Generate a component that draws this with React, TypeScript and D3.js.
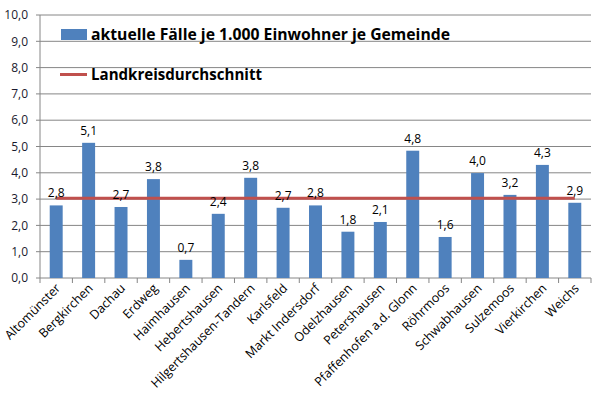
import * as d3 from 'd3'

// Gemeinden im Landkreis Dachau
const gemeinden = [
  'Altomünster', 'Bergkirchen', 'Dachau', 'Erdweg', 'Haimhausen', 'Hebertshausen',
  'Hilgertshausen-Tandern', 'Karlsfeld', 'Markt Indersdorf', 'Odelzhausen', 'Petershausen',
  'Pfaffenhofen a.d. Glonn', 'Röhrmoos', 'Schwabhausen', 'Sulzemoos', 'Vierkirchen', 'Weichs'
]
// aktuelle Fälle je 1.000 Einwohner
const faelle = [2.76, 5.14, 2.7, 3.76, 0.69, 2.44, 3.81, 2.67, 2.76, 1.76, 2.13, 4.84, 1.56, 3.99, 3.16, 4.3, 2.86]
const durchschnitt = 3.03
const yTicks = [0, 1, 2, 3, 4, 5, 6, 7, 8, 9, 10]

const seriesName = 'aktuelle Fälle je 1.000 Einwohner je Gemeinde'
const avgName = 'Landkreisdurchschnitt'

const W = 598
const H = 397
const margin = { top: 15, right: 7, bottom: 119, left: 40 }
const font = '"Open Sans", sans-serif'
const fmt = (v: number) => v.toFixed(1).replace('.', ',')

export default function App() {
  const x = d3.scaleBand<string>()
    .domain(gemeinden)
    .range([margin.left, W - margin.right])
    .paddingInner(0.6)
    .paddingOuter(0.3)
  const y = d3.scaleLinear()
    .domain([0, 10])
    .range([H - margin.bottom, margin.top])

  const step = x.step()
  const x0 = x.range()[0]
  const bottom = y(0)
  const center = (g: string) => (x(g) ?? 0) + x.bandwidth() / 2

  return (
    <svg width={W} height={H} style={{ position: 'absolute', left: 0, top: 0, background: '#fff' }}>
      {/* gridlines + y labels */}
      {yTicks.map(t => (
        <g key={t}>
          {t > 0 && (
            <line x1={margin.left} x2={W - margin.right} y1={y(t)} y2={y(t)} stroke="#868686" strokeWidth={1} />
          )}
          <line x1={margin.left - 4} x2={margin.left} y1={y(t)} y2={y(t)} stroke="#868686" />
          <text x={28} y={y(t)} dy="0.35em" textAnchor="end" fontFamily={font} fontSize={12} fill="#1a1a2e">
            {fmt(t)}
          </text>
        </g>
      ))}

      {/* axes */}
      <line x1={margin.left} x2={margin.left} y1={y(10)} y2={bottom} stroke="#868686" />
      <line x1={margin.left} x2={W - margin.right} y1={bottom} y2={bottom} stroke="#868686" />
      {d3.range(gemeinden.length + 1).map(i => (
        <line key={i} x1={x0 + i * step} x2={x0 + i * step} y1={bottom} y2={bottom + 5} stroke="#868686" />
      ))}

      {/* bars */}
      {gemeinden.map((g, i) => (
        <rect key={g} x={x(g)} y={y(faelle[i])} width={x.bandwidth()} height={bottom - y(faelle[i])} fill="#4F81BD" />
      ))}

      {/* Landkreisdurchschnitt */}
      <line
        x1={center(gemeinden[0])}
        x2={center(gemeinden[gemeinden.length - 1])}
        y1={y(durchschnitt)}
        y2={y(durchschnitt)}
        stroke="#C0504D"
        strokeWidth={3}
      />

      {/* data labels */}
      {gemeinden.map((g, i) => (
        <text key={g} x={center(g)} y={y(faelle[i]) - 8} textAnchor="middle" fontFamily={font} fontSize={12} fill="#000">
          {fmt(faelle[i])}
        </text>
      ))}

      {/* x labels */}
      {gemeinden.map(g => (
        <text
          key={g}
          transform={`translate(${center(g) + 5},${bottom + 11}) rotate(-45)`}
          textAnchor="end"
          fontFamily={font}
          fontSize={12.5}
          fill="#000"
        >
          {g}
        </text>
      ))}

      {/* legend */}
      <rect x={61} y={29} width={26} height={11} fill="#4F81BD" />
      <text x={91} y={40} fontFamily={font} fontSize={16} fontWeight="bold" fill="#000"
        textLength={359} lengthAdjust="spacingAndGlyphs">{seriesName}</text>
      <line x1={60} x2={87} y1={74.5} y2={74.5} stroke="#C0504D" strokeWidth={3} />
      <text x={91} y={80} fontFamily={font} fontSize={16} fontWeight="bold" fill="#000"
        textLength={171} lengthAdjust="spacingAndGlyphs">{avgName}</text>
    </svg>
  )
}
